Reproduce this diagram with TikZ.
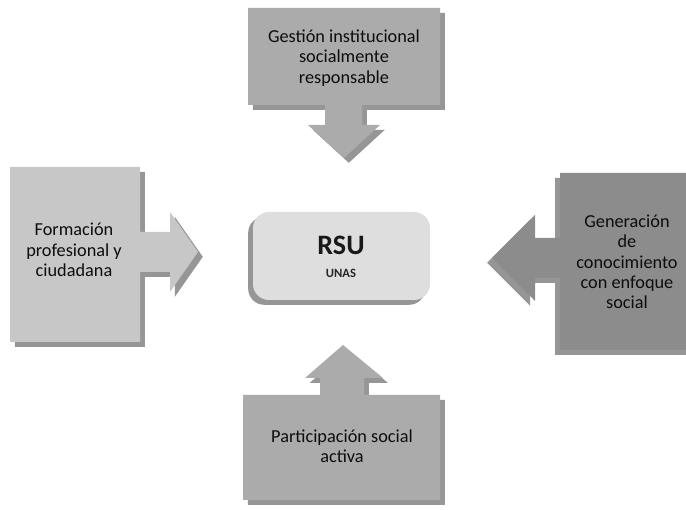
\documentclass[tikz,border=0pt]{standalone}
\usepackage{fontspec}
\setmainfont{Carlito}
\tikzset{
  panel/.style 2 args={draw=none, fill=#1,
    preaction={fill=black!55, opacity=.75, transform canvas={shift={#2}}}},
  paneltext/.style={align=center, font=\fontsize{13}{14.5}\selectfont, text=black!95}
}

\begin{document}
\begin{tikzpicture}[x=0.025cm, y=-0.025cm]
		%%%%% START %%%%%
		\useasboundingbox (0,0) rectangle (686,510);
		
		% top: gestion
		\draw[panel={black!33}{(1.2mm,-1.2mm)}] (248,8) -- (440,8) -- (440,105) -- (362,105) -- (362,125) -- (380,125)
			-- (344,158) -- (308,125) -- (325,125) -- (325,105) -- (248,105) -- cycle;
		\node[paneltext] (gestion) at (344,58) {Gestión institucional\\socialmente\\responsable};
		
		% left: formacion
		\draw[panel={black!22}{(1.2mm,-1.2mm)}] (10,167) -- (140,167) -- (140,232) -- (170,232) -- (170,212) -- (198,252)
			-- (170,292) -- (170,272) -- (140,272) -- (140,342) -- (10,342) -- cycle;
		\node[paneltext] (formacion) at (74,250) {Formación\\profesional y\\ciudadana};
		
		% center
		\draw[panel={black!13}{(-1.2mm,-1.2mm)}, rounded corners=4mm] (253,212) rectangle (430,300);
		\node[font=\fontsize{20}{20}\selectfont\bfseries, text=black!90] (rsu) at (341,245) {RSU};
		\node[font=\fontsize{9}{9}\selectfont\bfseries, text=black!85] (unas) at (341,273) {UNAS};
		
		% right: generacion
		\draw[panel={black!45}{(-1.2mm,-1.2mm)}] (700,173) -- (560,173) -- (560,238) -- (535,238) -- (535,215) -- (492,258)
			-- (535,301) -- (535,278) -- (560,278) -- (560,350) -- (700,350) -- cycle;
		\node[paneltext] (generacion) at (627,262) {Generación\\de\\conocimiento\\con enfoque\\social};
		
		% bottom: participacion
		\draw[panel={black!33}{(1.2mm,-1.2mm)}] (243,395) -- (320,395) -- (320,378) -- (305,378) -- (343,345) -- (383,378)
			-- (364,378) -- (364,395) -- (440,395) -- (440,500) -- (243,500) -- cycle;
		\node[paneltext] (participacion) at (342,446) {Participación social\\activa};
		%%%%% END %%%%%
\end{tikzpicture}
\end{document}
